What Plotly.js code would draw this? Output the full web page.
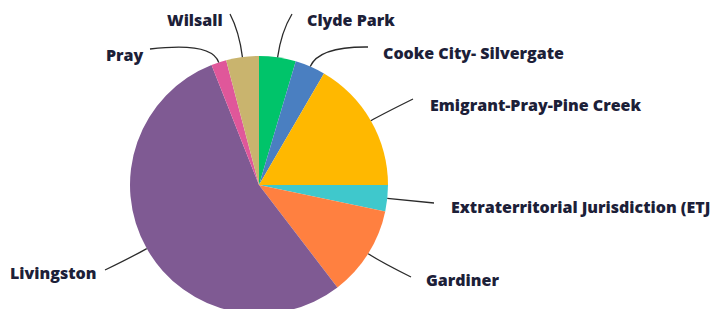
<!DOCTYPE html>
<html>
<head>
<meta charset="utf-8">
<script src="https://cdn.plot.ly/plotly-3.0.1.min.js"></script>
<style>
html,body{margin:0;padding:0;overflow:hidden;background:#fff;}
#chart{width:715px;height:314px;}
</style>
</head>
<body>
<div id="chart"></div>
<script>
// ---- data ----
const labels = ["Clyde Park", "Cooke City- Silvergate", "Emigrant-Pray-Pine Creek",
  "Extraterritorial Jurisdiction (ETJ", "Gardiner", "Livingston", "Pray", "Wilsall"];
const values = [4.6, 3.8, 16.6, 3.3, 11.3, 54.4, 1.9, 4.1];
const colors = ["#00C46A", "#4A7FC1", "#FFB800", "#3FC8CC", "#FF8040", "#7F5A93", "#E0579A", "#C9B46E"];

// ---- layout (pixels) ----
const W = 715, H = 314;
const cx = 259, cy = 185, R = 129;
// label text anchor [x, y, xanchor], leader end [x, y], bend distance
const labelPos = [
  [305, 20, "left"], [381, 53, "left"], [428, 105, "left"], [449, 207, "left"],
  [424, 280, "left"], [8, 273, "left"], [104, 55, "left"], [165, 20, "left"]
];
const leaderEnd = [[292, 14], [368, 47], [413, 99], [434, 203], [411, 277], [105, 270], [150, 49], [230, 14]];
const bend = [26, 22, 12, 10, 18, 18, 22, 26];

const px = x => x / W, py = y => 1 - y / H;

const total = values.reduce((a, b) => a + b, 0);
let cum = 0;
const shapes = [], annotations = [];
values.forEach((v, i) => {
  const mid = (cum + v / 2) / total * 2 * Math.PI; // clockwise from top
  cum += v;
  const ax = cx + R * Math.sin(mid), ay = cy - R * Math.cos(mid);
  const bx = cx + (R + bend[i]) * Math.sin(mid), by = cy - (R + bend[i]) * Math.cos(mid);
  const [ex, ey] = leaderEnd[i];
  shapes.push({
    type: "path", xref: "paper", yref: "paper",
    path: `M ${px(ax)} ${py(ay)} Q ${px(bx)} ${py(by)} ${px(ex)} ${py(ey)}`,
    line: {color: "#2b2b2b", width: 1.3}
  });
  annotations.push({
    text: labels[i], xref: "paper", yref: "paper",
    x: px(labelPos[i][0]), y: py(labelPos[i][1]),
    xanchor: labelPos[i][2], yanchor: "middle", showarrow: false,
    font: {family: "Open Sans", size: 16, color: "#1c2038", weight: 800}
  });
});

const trace = {
  type: "pie", labels: labels, values: values, sort: false, direction: "clockwise",
  rotation: 0, marker: {colors: colors, line: {width: 0}},
  textinfo: "none", hoverinfo: "none",
  domain: {x: [(cx - R) / W, (cx + R) / W], y: [0, (2 * R) / H]}
};

Plotly.newPlot("chart", [trace], {
  width: W, height: H, margin: {l: 0, r: 0, t: 0, b: 0},
  paper_bgcolor: "#fff", plot_bgcolor: "#fff", showlegend: false,
  shapes: shapes, annotations: annotations
}, {staticPlot: true, displayModeBar: false});
</script>
</body>
</html>
